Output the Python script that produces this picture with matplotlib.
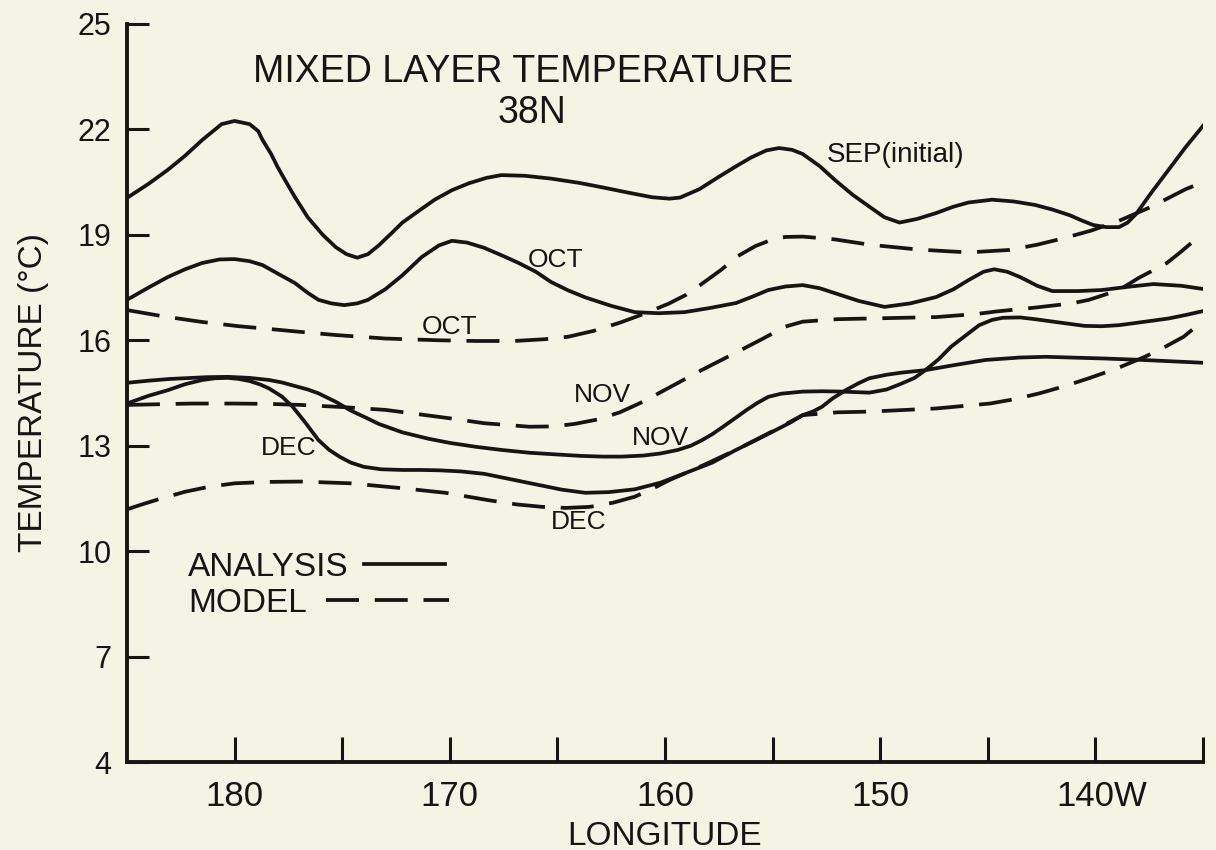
import matplotlib
matplotlib.use("Agg")
import matplotlib.pyplot as plt
from matplotlib.lines import Line2D
from matplotlib.transforms import ScaledTranslation

plt.rcParams['font.family'] = ['Liberation Sans', 'DejaVu Sans']

# ---------------- data (longitude in degrees W, temperature in deg C) -------------
sep_lon = [185, 184, 183.1, 182.3, 181.5, 181, 180.6, 180, 179.3, 178.9, 178.7, 178.3, 178.0,
           177.6, 177.2, 176.6, 175.9, 175.3, 174.8, 174.3, 173.8, 173.3, 172.7, 172.2, 171.4,
           170.7, 169.9, 169.1, 168.3, 167.6, 166.5, 165.3, 164, 162.9, 161.7, 160.6, 159.8,
           159.3, 158.4, 157.5, 156.7, 156, 155.3, 154.7, 154.1, 153.6, 152.8, 152.1, 151.3,
           150.5, 149.8, 149.1, 148.3, 147.4, 146.6, 145.9, 144.8, 143.8, 142.8, 142, 141.2,
           140.6, 140.1, 139.5, 138.9, 138.5, 138.1, 137.4, 136.6, 135.8, 135]
sep_ana = [20.05, 20.45, 20.85, 21.25, 21.7, 21.95, 22.15, 22.24, 22.15, 21.95, 21.7, 21.3, 20.93,
           20.5, 20.08, 19.5, 19.0, 18.65, 18.45, 18.35, 18.45, 18.7, 19.05, 19.35, 19.7,
           20.0, 20.27, 20.47, 20.62, 20.7, 20.68, 20.6, 20.48, 20.35, 20.2, 20.07, 20.03,
           20.06, 20.3, 20.65, 20.95, 21.2, 21.4, 21.47, 21.42, 21.3, 20.95, 20.56, 20.15,
           19.8, 19.5, 19.35, 19.45, 19.62, 19.8, 19.92, 20.0, 19.95, 19.85, 19.72, 19.56,
           19.4, 19.28, 19.22, 19.22, 19.35, 19.6, 20.2, 20.85, 21.5, 22.1]

oct_lon = [185, 184, 183.1, 182.3, 181.5, 180.7, 180, 179.3, 178.7, 178, 177.2, 176.6, 176.1,
           175.5, 174.9, 174.3, 173.8, 173, 172.2, 171.3, 170.5, 169.9, 169.2, 168.4, 167.6,
           166.8, 166, 165.3, 164.5, 163.7, 162.5, 161.4, 160.3, 159.1, 157.9, 156.7, 155.9,
           155.2, 154.4, 153.6, 152.8, 152.1, 151, 149.8, 148.6, 147.4, 146.6, 145.9, 145.2,
           144.7, 144.1, 143.5, 142.7, 142.0, 140.8, 139.7, 138.5, 137.3, 136, 135]
oct_ana = [17.15, 17.5, 17.8, 18.02, 18.2, 18.3, 18.31, 18.25, 18.14, 17.9, 17.63, 17.35, 17.15,
           17.05, 17.0, 17.05, 17.15, 17.45, 17.85, 18.37, 18.7, 18.83, 18.78, 18.63, 18.42,
           18.2, 17.95, 17.66, 17.42, 17.22, 16.98, 16.8, 16.77, 16.8, 16.92, 17.06, 17.25,
           17.43, 17.53, 17.57, 17.48, 17.34, 17.12, 16.95, 17.05, 17.23, 17.45, 17.71, 17.95,
           18.02, 17.95, 17.8, 17.55, 17.4, 17.4, 17.43, 17.52, 17.6, 17.55, 17.46]

oct_mod_lon = [185, 183.3, 181.5, 179.8, 178, 176.6, 175.3, 173, 170.5, 168.8, 167, 165.6,
               164.5, 163.3, 162.1, 160.9, 159.8, 159, 158.3, 157.4, 156.6, 155.8, 155, 154.4,
               153.6, 152.1, 150.5, 148.2, 145.9, 144, 142.7, 141.5, 140.2, 138.9, 137.4,
               135.8, 135]
oct_mod = [16.86, 16.68, 16.52, 16.4, 16.3, 16.22, 16.15, 16.05, 16.0, 15.98, 15.98, 16.03,
           16.1, 16.27, 16.5, 16.77, 17.05, 17.3, 17.6, 18.0, 18.4, 18.68, 18.87, 18.94,
           18.95, 18.87, 18.72, 18.58, 18.5, 18.57, 18.72, 18.9, 19.12, 19.4, 19.8,
           20.3, 20.5]

nov_lon = [185, 184, 183, 182.3, 181.3, 180.3, 179.3, 178.4, 177.8, 177.2, 176.6, 176.1, 175.3,
           174.6, 173.9, 173.3, 172.2, 171, 170, 168.8, 167.6, 166.3, 165, 163.9, 162.9, 162,
           161, 160.2, 159.4, 158.8, 158.3, 157.8, 157.3, 156.7, 156.2, 155.7, 155.2, 154.6,
           153.6, 152.7, 151.8, 150.5, 149.7, 149, 148.4, 147.9, 147.3, 146.7, 146, 145.4,
           144.8, 144.3, 143.5, 142.8, 141.6, 140.5, 139.7, 138.9, 137.8, 136.6, 135.8, 135]
nov_ana = [14.79, 14.85, 14.9, 14.92, 14.95, 14.96, 14.93, 14.87, 14.8, 14.7, 14.6, 14.49, 14.25,
           14.0, 13.8, 13.62, 13.38, 13.2, 13.08, 12.97, 12.88, 12.8, 12.75, 12.71, 12.69, 12.69,
           12.72, 12.78, 12.88, 13.0, 13.15, 13.33, 13.54, 13.8, 14.02, 14.22, 14.39, 14.48,
           14.54, 14.55, 14.54, 14.51, 14.6, 14.77, 14.93, 15.15, 15.45, 15.82, 16.15, 16.43,
           16.58, 16.64, 16.65, 16.6, 16.5, 16.41, 16.4, 16.43, 16.52, 16.62, 16.72, 16.83]

nov_mod_lon = [185, 182, 180, 178.4, 176.9, 175, 173, 171.5, 170, 168.4, 166.3, 165.2, 164.2,
               163.1, 162.1, 161.2, 160.3, 159.3, 158.3, 157.5, 156.7, 155.5, 154.4, 153.6,
               152, 150.5, 147.4, 145.5, 144.6, 142.8, 141.1, 140.3, 138.9, 138.0, 136.7,
               136.1, 135]
nov_mod = [14.16, 14.2, 14.2, 14.19, 14.16, 14.1, 14.02, 13.9, 13.78, 13.64, 13.54, 13.55, 13.62,
           13.75, 13.95, 14.2, 14.49, 14.82, 15.15, 15.4, 15.65, 16.03, 16.39, 16.53,
           16.6, 16.62, 16.66, 16.75, 16.82, 16.93, 17.05, 17.15, 17.43, 17.77, 18.19,
           18.48, 19.05]

dec_lon = [185, 184, 183.1, 182.3, 181.5, 180.9, 180.3, 179.8, 179.3, 178.8, 178.4, 177.8, 177.3,
           176.7, 176.1, 175.6, 175.1, 174.6, 174, 173.2, 172.2, 171.3, 170.5, 169.5, 168.4,
           167.2, 166, 164.8, 163.7, 162.6, 161.4, 160.2, 159.1, 157.8, 156.7, 155.8, 155,
           154.2, 153.6, 153.1, 152.7, 152.2, 151.6, 151, 150.5, 149.7, 149, 147.9, 146.5,
           145.1, 143.5, 142.3, 141.2, 139.5, 137.8, 136.4, 135]
dec_ana = [14.2, 14.42, 14.58, 14.75, 14.87, 14.92, 14.93, 14.9, 14.84, 14.74, 14.63, 14.4, 14.11,
           13.65, 13.16, 12.88, 12.68, 12.52, 12.4, 12.33, 12.31, 12.31, 12.3, 12.27, 12.2,
           12.05, 11.9, 11.75, 11.66, 11.68, 11.76, 11.95, 12.21, 12.52, 12.88, 13.15, 13.4,
           13.65, 13.87, 13.98, 14.11, 14.35, 14.58, 14.78, 14.92, 15.02, 15.08, 15.15, 15.3,
           15.44, 15.51, 15.53, 15.51, 15.48, 15.44, 15.4, 15.36]

dec_mod_lon = [185, 184.2, 183.4, 182.3, 181.2, 180, 178.5, 176.9, 174.6, 172.2, 170.2, 168.2,
               166.9, 165.7, 164.6, 163.5, 162.4, 161.4, 160.6, 159.8, 158.2, 156.7, 155.1,
               153.6, 152, 150.5, 147.4, 144.9, 143.7, 142.6, 141.4, 140.3, 139, 137.7, 136.8,
               135.9, 135]
dec_mod = [11.19, 11.35, 11.5, 11.69, 11.83, 11.93, 11.97, 11.98, 11.93, 11.79, 11.66, 11.45,
           11.33, 11.26, 11.23, 11.26, 11.38, 11.55, 11.77, 12.02, 12.45, 12.88, 13.38,
           13.87, 13.95, 13.97, 14.06, 14.2, 14.33, 14.49, 14.7, 14.92, 15.2, 15.53, 15.8,
           16.1, 16.55]

x_ticks = [180, 175, 170, 165, 160, 155, 150, 145, 140, 135]
x_ticklabels = ['180', '', '170', '', '160', '', '150', '', '140W', '']
y_ticks = [4, 7, 10, 13, 16, 19, 22, 25]

# curve labels: (text, lon, temp)
curve_labels = [('SEP(initial)', 149.3, 21.27),
                ('OCT', 165.1, 18.28),
                ('OCT', 170.0, 16.38),
                ('NOV', 162.9, 14.45),
                ('NOV', 160.2, 13.22),
                ('DEC', 177.5, 12.93),
                ('DEC', 164.0, 10.83)]

# ---------------- figure -------------
bg = '#f4f4e5'
ink = '#151515'
fig = plt.figure(figsize=(12.16, 8.5), dpi=100)
fig.patch.set_facecolor(bg)
ax = fig.add_axes([0.1044, 0.1035, 0.8849, 0.8683])
ax.set_facecolor(bg)
ax.set_xlim(185, 135)
ax.set_ylim(4, 25)

lw = 2.7
dash = (8.8, 4.2)
ax.plot(sep_lon, sep_ana, color=ink, lw=lw, solid_joinstyle='round')
ax.plot(oct_lon, oct_ana, color=ink, lw=lw, solid_joinstyle='round')
ax.plot(nov_lon, nov_ana, color=ink, lw=lw, solid_joinstyle='round')
ax.plot(dec_lon, dec_ana, color=ink, lw=lw, solid_joinstyle='round')
ax.plot(oct_mod_lon, oct_mod, color=ink, lw=lw, dashes=dash)
ax.plot(nov_mod_lon, nov_mod, color=ink, lw=lw, dashes=dash)
ax.plot(dec_mod_lon, dec_mod, color=ink, lw=lw, dashes=dash)

for s in ['top', 'right']:
    ax.spines[s].set_visible(False)
for s in ['left', 'bottom']:
    ax.spines[s].set_linewidth(2.8)
    ax.spines[s].set_color(ink)

ax.set_xticks(x_ticks)
ax.set_xticklabels(x_ticklabels)
ax.set_yticks(y_ticks)
ax.tick_params(axis='x', direction='in', length=18, width=2.2, pad=13, labelsize=25,
               colors=ink)
ax.tick_params(axis='y', direction='in', length=15.5, width=2.2, pad=11, labelsize=22,
               colors=ink)
for lab in ax.get_xticklabels():
    if lab.get_text() == '140W':
        lab.set_transform(lab.get_transform() +
                          ScaledTranslation(6 / 100, 0, fig.dpi_scale_trans))

ax.set_ylabel('TEMPERATURE (°C)', fontsize=24, color=ink)
ax.yaxis.set_label_coords(-0.0725, 0.5)
ax.set_xlabel('LONGITUDE', fontsize=24, color=ink)
ax.xaxis.label.set_va('baseline')
ax.xaxis.set_label_coords(0.5, -0.1125)

ax.text(166.6, 23.63, 'MIXED LAYER TEMPERATURE', fontsize=27, ha='center', va='center',
        color=ink)
ax.text(166.2, 22.46, '38N', fontsize=27, ha='center', va='center', color=ink)

for txt, lx, ly in curve_labels:
    fs = 20 if txt.startswith('SEP') else 19
    ax.text(lx, ly, txt, fontsize=fs, ha='center', va='center', color=ink)

# legend: label first, then line sample
leg1 = ax.legend([Line2D([], [], color=ink, lw=lw)], ['ANALYSIS'], markerfirst=False,
                 frameon=False, loc='center left', bbox_to_anchor=(0.0567, 0.264),
                 fontsize=24, handlelength=2.43, handletextpad=0.45, borderpad=0,
                 borderaxespad=0, labelcolor=ink)
ax.add_artist(leg1)
ax.legend([Line2D([], [], color=ink, lw=lw, dashes=dash)], ['MODEL'], markerfirst=False,
          frameon=False, loc='center left', bbox_to_anchor=(0.0567, 0.215),
          fontsize=24, handlelength=3.69, handletextpad=0.57, borderpad=0,
          borderaxespad=0, labelcolor=ink)

fig.savefig('out.png', dpi=100, facecolor=bg)
